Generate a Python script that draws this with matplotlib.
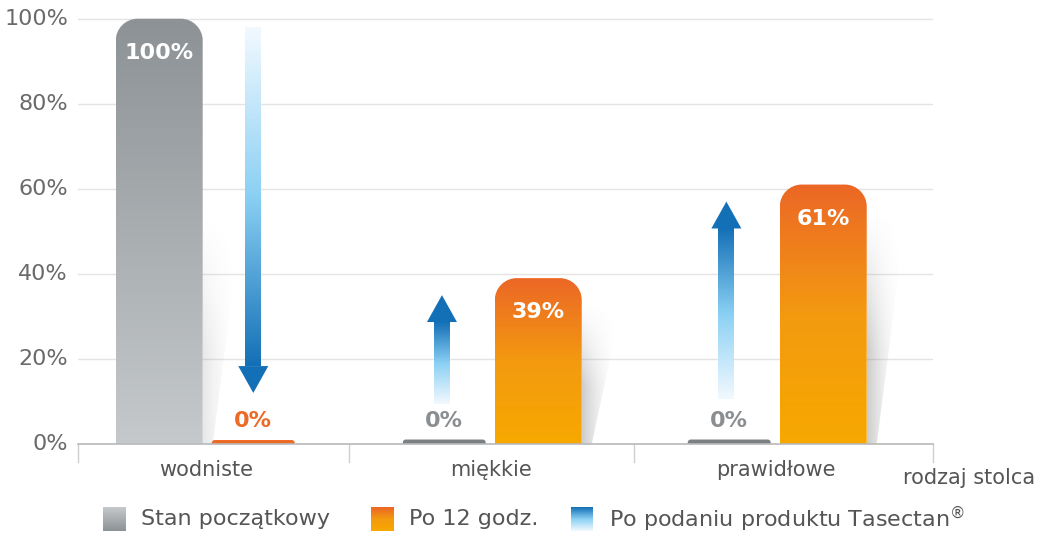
import numpy as np
import matplotlib
matplotlib.use('Agg')
import matplotlib.pyplot as plt
from matplotlib.path import Path
from matplotlib.patches import PathPatch, Polygon
from matplotlib.colors import LinearSegmentedColormap

# Data
categories = ['wodniste', 'miękkie', 'prawidłowe']
stan_poczatkowy = [100, 0, 0]
po_12_godz = [0, 39, 61]
# blue arrows: (from %, to %)
arrow_from = [98, 9.5, 10.5]
arrow_to = [12, 35, 57]
y_ticks = [0, 20, 40, 60, 80, 100]
legend_labels = ['Stan początkowy', 'Po 12 godz.', 'Po podaniu produktu Tasectan$^{\\circledR}$']

W, H = 1057, 533
fig = plt.figure(figsize=(W / 100, H / 100), dpi=100)
ax = fig.add_axes([78 / W, 1 - 444 / H, (933 - 78) / W, (444 - 17) / H])
ax.set_xlim(-0.45, 2.55)
ax.set_ylim(0, 100)
for s in ax.spines.values():
    s.set_visible(False)
ax.set_xticks([])
ax.set_yticks([])

# pixel -> data scale
px_x = 3.0 / (933 - 78)
px_y = 100.0 / (444 - 17)

gray_cmap = LinearSegmentedColormap.from_list('g', ['#c5c9cb', '#8d9296'])
orange_cmap = LinearSegmentedColormap.from_list('o', ['#f7a800', '#f39a10', '#ec6726'])
blue_cmap = LinearSegmentedColormap.from_list('b', ['#f2f9ff', '#8ad0f4', '#1470b6'])

# grid
for t in y_ticks[1:]:
    ax.axhline(t, color='#e4e4e4', lw=1, zorder=0)
ax.axhline(0, color='#b9b9b9', lw=1.2, zorder=5, clip_on=False)
for xs in [-0.45, 0.5, 1.5, 2.55]:
    ax.plot([xs, xs], [0, -18 * px_y], color='#cfcfcf', lw=1, clip_on=False)

for t in y_ticks:
    ax.text(-0.45 - 10 * px_x, t, f'{t}%', ha='right', va='center',
            fontsize=16, color='#6a6a6a')


def rounded_bar(x0, x1, h, rpx=22):
    rx = min(rpx * px_x, (x1 - x0) / 2)
    ry = min(rpx * px_y, h)
    k = 0.5523
    verts = [(x0, 0), (x0, h - ry),
             (x0, h - ry + k * ry), (x0 + rx - k * rx, h), (x0 + rx, h),
             (x1 - rx, h),
             (x1 - rx + k * rx, h), (x1, h - ry + k * ry), (x1, h - ry),
             (x1, 0), (x0, 0)]
    codes = [Path.MOVETO, Path.LINETO,
             Path.CURVE4, Path.CURVE4, Path.CURVE4,
             Path.LINETO,
             Path.CURVE4, Path.CURVE4, Path.CURVE4,
             Path.LINETO, Path.CLOSEPOLY]
    return Path(verts, codes)


def gradient_fill(path, cmap, ext, zorder=3):
    patch = PathPatch(path, facecolor='none', edgecolor='none')
    ax.add_patch(patch)
    grad = np.linspace(0, 1, 128).reshape(-1, 1)
    im = ax.imshow(grad, extent=ext, origin='lower', aspect='auto', cmap=cmap,
                   zorder=zorder, interpolation='bicubic')
    im.set_clip_path(patch)


def shadow(x1, h, strength):
    top = h - 6
    xs_top = x1 + 40 * px_x
    xs_bot = x1 + 10 * px_x
    poly = Path([(x1, top), (xs_top, top), (xs_bot, 0), (x1, 0), (x1, top)],
                [Path.MOVETO, Path.LINETO, Path.LINETO, Path.LINETO, Path.CLOSEPOLY])
    patch = PathPatch(poly, facecolor='none', edgecolor='none')
    ax.add_patch(patch)
    nx, ny = 64, 128
    gx = np.linspace(1, 0, nx)[None, :]
    t = np.linspace(0, 1, ny)[:, None]  # 0 bottom, 1 top
    gy = np.clip((1 - t) / 0.6, 0, 1) ** 1.2
    img = np.zeros((ny, nx, 4))
    img[..., :3] = 0.5
    img[..., 3] = strength * gx ** 2 * gy
    im = ax.imshow(img, extent=[x1, xs_top, 0, top], origin='lower',
                   aspect='auto', zorder=2, interpolation='bilinear')
    im.set_clip_path(patch)


bw = 0.305
off = 0.165
for i in range(3):
    # initial state bars
    xg = i - off
    v = stan_poczatkowy[i]
    if v > 0:
        shadow(xg + bw / 2, v * 0.6, 0.18)
        gradient_fill(rounded_bar(xg - bw / 2, xg + bw / 2, v), gray_cmap,
                      [xg - bw / 2, xg + bw / 2, 0, v])
        ax.text(xg, v - 8, f'{v}%', ha='center', va='center', color='white',
                fontsize=16, fontweight='bold', zorder=6)
    else:
        p = rounded_bar(xg - bw / 2 + 2 * px_x, xg + bw / 2 - 2 * px_x, 4.5 * px_y, rpx=3)
        ax.add_patch(PathPatch(p, facecolor='#7b8085', edgecolor='none', zorder=3))
        ax.text(xg, 5.5, f'{v}%', ha='center', va='center', color='#8a8e91',
                fontsize=16, fontweight='bold', zorder=6)
    # after 12h bars
    xo = i + off
    v = po_12_godz[i]
    if v > 0:
        shadow(xo + bw / 2, v, 0.4)
        gradient_fill(rounded_bar(xo - bw / 2, xo + bw / 2, v), orange_cmap,
                      [xo - bw / 2, xo + bw / 2, 0, v])
        ax.text(xo, v - 8, f'{v}%', ha='center', va='center', color='white',
                fontsize=16, fontweight='bold', zorder=6)
    else:
        p = rounded_bar(xo - bw / 2 + 2 * px_x, xo + bw / 2 - 2 * px_x, 4 * px_y, rpx=3)
        ax.add_patch(PathPatch(p, facecolor='#ec6a25', edgecolor='none', zorder=3))
        ax.text(xo, 5.5, f'{v}%', ha='center', va='center', color='#ec6a25',
                fontsize=16, fontweight='bold', zorder=6)

# arrows
arrow_x = [0 + off, 1 - off - 0.008, 2 - off - 0.01]
sw = 16 * px_x
hw = 30 * px_x
hl = 27 * px_y
for i in range(3):
    xa = arrow_x[i]
    y0, y1 = arrow_from[i], arrow_to[i]
    d = 1 if y1 > y0 else -1
    yb = y1 - d * hl
    shaft = Path([(xa - sw / 2, y0), (xa + sw / 2, y0), (xa + sw / 2, yb),
                  (xa - sw / 2, yb), (xa - sw / 2, y0)],
                 [Path.MOVETO, Path.LINETO, Path.LINETO, Path.LINETO, Path.CLOSEPOLY])
    lo, hi = min(y0, yb), max(y0, yb)
    cm = blue_cmap if d > 0 else blue_cmap.reversed()
    gradient_fill(shaft, cm, [xa - sw / 2, xa + sw / 2, lo, hi], zorder=4)
    ax.add_patch(Polygon([(xa - hw / 2, yb), (xa + hw / 2, yb), (xa, y1)],
                         closed=True, facecolor='#1470b6', edgecolor='none', zorder=4))

ax.set_xlim(-0.45, 2.55)
ax.set_ylim(0, 100.4)

# category labels
for i, c in enumerate(categories):
    ax.text(i, -6.2, c, ha='center', va='center', fontsize=15, color='#555555',
            clip_on=False)
fig.text(903 / W, 1 - 478 / H, 'rodzaj stolca', ha='left', va='center',
         fontsize=15, color='#555555')

# legend
sw_x = [103, 371, 571]
sw_cmaps = [gray_cmap, orange_cmap.reversed(), blue_cmap.reversed()]
for k in range(3):
    lax = fig.add_axes([sw_x[k] / W, 1 - 531 / H, 22 / W, 24 / H])
    lax.imshow(np.linspace(0, 1, 64).reshape(-1, 1), cmap=sw_cmaps[k],
               aspect='auto', origin='upper', extent=[0, 1, 0, 1])
    lax.axis('off')
    fig.text((sw_x[k] + 38) / W, 1 - 519 / H, legend_labels[k], ha='left',
             va='center', fontsize=16, color='#555555')

fig.savefig('out.png', dpi=100)
